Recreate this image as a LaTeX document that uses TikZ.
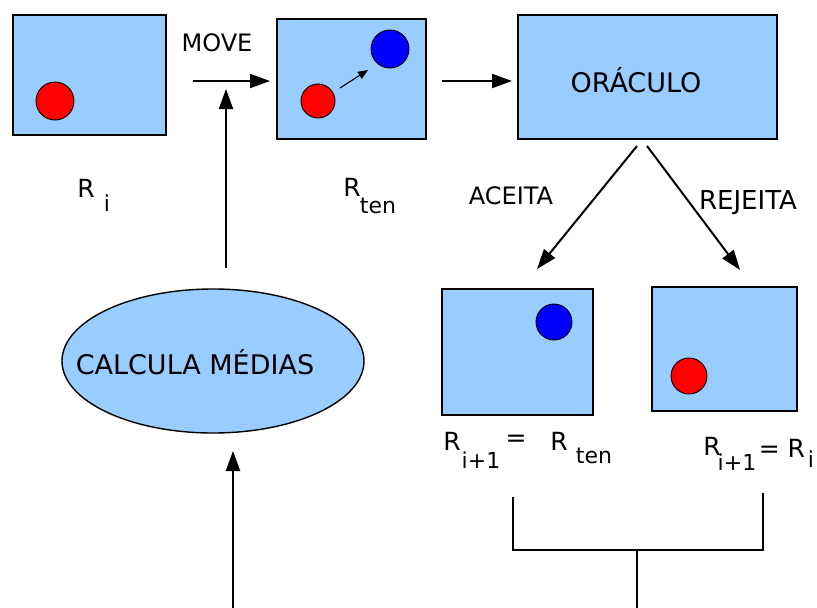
\documentclass[tikz,border=0pt]{standalone}
\usepackage{fontspec}
\setmainfont{DejaVu Sans}
\usetikzlibrary{arrows.meta,shapes.geometric}
\definecolor{boxblue}{RGB}{153,204,255}
\definecolor{dotred}{RGB}{255,0,0}
\definecolor{dotblue}{RGB}{0,0,255}
\tikzset{
  panel/.style={draw=black, line width=1.7pt, fill=boxblue, inner sep=0pt, outer sep=0pt},
  dot/.style={circle, draw=black, line width=0.9pt, inner sep=0pt, outer sep=0pt},
  reddot/.style={dot, fill=dotred},
  bluedot/.style={dot, fill=dotblue},
  flow/.style={line width=2pt, -{Triangle[length=20pt,width=14pt]}},
  wire/.style={line width=1.7pt},
  lbl/.style={inner sep=0pt, font=\fontsize{25}{30}\selectfont},
  sub/.style={inner sep=0pt, font=\fontsize{22}{26}\selectfont},
}
\begin{document}
\begin{tikzpicture}[x=1pt, y=-1pt]
\useasboundingbox (0,0) rectangle (817,608);

% state panels
\node[panel, minimum width=153pt, minimum height=120pt] (ri) at (89.5,75) {};
\node[panel, minimum width=149pt, minimum height=120pt] (rten) at (351.5,79) {};
\node[panel, minimum width=259pt, minimum height=124pt] (oraculo) at (647.5,77) {};
\node[panel, minimum width=151pt, minimum height=126pt] (aceita) at (517.5,352) {};
\node[panel, minimum width=145pt, minimum height=124pt] (rejeita) at (724.5,349) {};
\node[inner sep=0pt, font=\fontsize{27}{32}\selectfont] (otext) at (636,80) {ORÁCULO};

% particles
\node[reddot, minimum size=38pt] (p1) at (55,101) {};
\node[reddot, minimum size=34pt] (p2) at (318,101) {};
\node[bluedot, minimum size=38pt] (p3) at (390,49) {};
\node[bluedot, minimum size=36pt] (p4) at (554,322) {};
\node[reddot, minimum size=36pt] (p5) at (689,376) {};
\draw[line width=1.1pt, -{Triangle[length=10pt,width=8pt]}] (340,88) -- (368,70);

% averaging step
\node[ellipse, draw=black, line width=1.4pt, fill=boxblue, minimum width=302pt, minimum height=144pt, inner sep=0pt] (medias) at (213,361) {};
\node[inner sep=0pt, font=\fontsize{27}{32}\selectfont] (mtext) at (195,362) {CALCULA MÉDIAS};

% labels
\node[lbl, font=\fontsize{24}{28}\selectfont] (move) at (217,43) {MOVE};
\node[lbl, font=\fontsize{24}{28}\selectfont] (aceitalbl) at (511,196) {ACEITA};
\node[lbl, font=\fontsize{26}{31}\selectfont] (rejeitalbl) at (748,203) {REJEITA};

\node[lbl] (r1) at (86,188) {R};
\node[sub] (r1s) at (107,203) {i};
\node[lbl] (r2) at (352,187) {R};
\node[sub] (r2s) at (378,206) {ten};

\node[lbl] (r3) at (452,441) {R};
\node[sub] (r3s) at (481,460) {i+1};
\node[lbl] (r3e) at (516,441) {=};
\node[lbl] (r3r) at (559,441) {R};
\node[sub] (r3t) at (594,456) {ten};

\node[lbl] (r4) at (712,446) {R};
\node[sub] (r4s) at (737,462) {i+1};
\node[lbl] (r4e) at (782,448) {= R};
\node[sub] (r4t) at (811,459) {i};

% connector end points
\coordinate (m0) at (193,81);
\coordinate (m1) at (270,81);
\coordinate (u0) at (226,268);
\coordinate (u1) at (226,89);
\coordinate (o0) at (442,81);
\coordinate (o1) at (512,81);
\coordinate (a0) at (637,146);
\coordinate (a1) at (537,269);
\coordinate (b0) at (647,146);
\coordinate (b1) at (740,270);
\coordinate (e0) at (233,608);
\coordinate (e1) at (233,451);
\coordinate (k1) at (513,497);
\coordinate (k2) at (763,493);
\coordinate (kj) at (637,550);
\coordinate (kb) at (637,608);

% connectors
\draw[flow] (m0) -- (m1);
\draw[flow] (u0) -- (u1);
\draw[flow] (o0) -- (o1);
\draw[flow] (a0) -- (a1);
\draw[flow] (b0) -- (b1);
\draw[flow] (e0) -- (e1);
\draw[wire] (k1) |- (kj) -| (k2);
\draw[wire] (kj) -- (kb);
\end{tikzpicture}
\end{document}
